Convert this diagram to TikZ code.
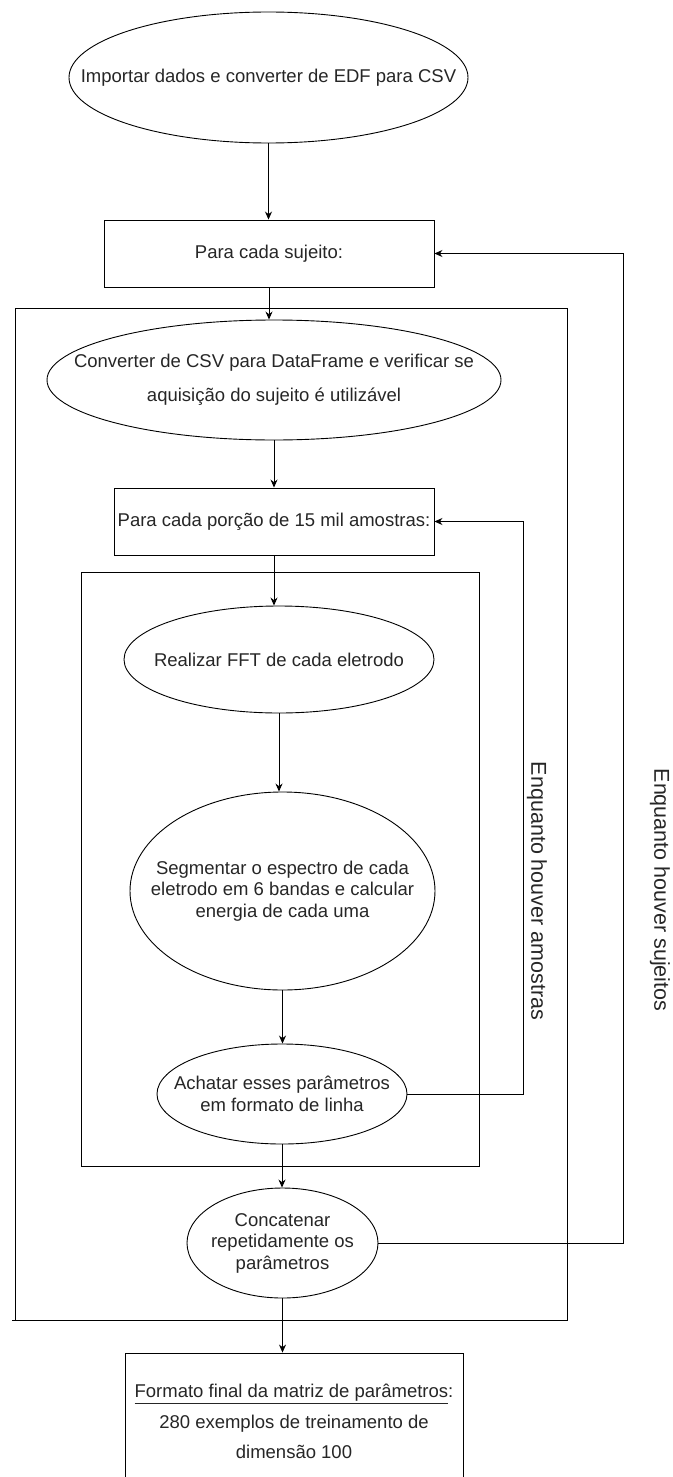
\documentclass[tikz,border=0pt]{standalone}
\usepackage{fontspec}
\setmainfont{Liberation Sans}
\usetikzlibrary{shapes.geometric,arrows.meta}

\begin{document}
\begin{tikzpicture}[x=1pt,y=-1pt,
  every node/.style={font=\fontsize{18.5}{21.5}\selectfont, text=black!85, align=center},
  proc/.style={draw, ellipse, line width=0.9pt, inner sep=0pt},
  loopbox/.style={draw, rectangle, line width=0.9pt, inner sep=0pt},
  arr/.style={line width=0.9pt, -{Stealth[length=8pt,width=7pt]}},
  lbl/.style={rotate=-90, font=\fontsize{21.5}{25}\selectfont}]
  \useasboundingbox (0,0) rectangle (672,1477);
  % frames of the two loops
  \draw[line width=0.9pt] (12,1320) -- (567,1320) -- (567,308) -- (15,308) -- (15,1320);
  \draw[line width=0.9pt] (81,572) rectangle (479,1166);
  % steps
  \node[proc, minimum width=399, minimum height=131,
        label=center:{Importar dados e converter de EDF para CSV}] (import) at (268.5,77.5) {};
  \node[loopbox, minimum width=330, minimum height=67] (sujeito) at (269,253.5) {Para cada sujeito:};
  \node[proc, minimum width=454, minimum height=120,
        label={[font=\fontsize{18.5}{34}\selectfont]center:{Converter de CSV para DataFrame e verificar se\\aquisição do sujeito é utilizável}}] (convert) at (274,380) {};
  \node[loopbox, minimum width=320, minimum height=67] (porcao) at (274,521.5) {Para cada porção de 15 mil amostras:};
  \node[proc, minimum width=310, minimum height=107,
        label=center:{Realizar FFT de cada eletrodo}] (fft) at (279,659.5) {};
  \node[proc, minimum width=305, minimum height=198,
        label=center:{Segmentar o espectro de cada\\eletrodo em 6 bandas e calcular\\energia de cada uma}] (segm) at (282.5,891) {};
  \node[proc, minimum width=250, minimum height=100,
        label=center:{Achatar esses parâmetros\\em formato de linha}] (achatar) at (282,1094) {};
  \node[proc, minimum width=191, minimum height=110,
        label=center:{Concatenar\\repetidamente os\\parâmetros}] (concat) at (282.5,1243) {};
  \node[loopbox, minimum width=338, minimum height=137,
        font=\fontsize{18.5}{30.5}\selectfont] (final) at (294,1421.5)
        {\underline{Formato final da matriz de parâmetros}:\\280 exemplos de treinamento de\\dimensão 100};
  % flow
  \draw[arr] (import.south) -- (import.south |- sujeito.north);
  \draw[arr] (sujeito.south) -- (sujeito.south |- convert.north);
  \draw[arr] (convert.south) -- (convert.south |- porcao.north);
  \draw[arr] (porcao.south) -- (porcao.south |- fft.north);
  \draw[arr] (fft.south) -- (fft.south |- segm.north);
  \draw[arr] (segm.south) -- (segm.south |- achatar.north);
  \draw[arr] (achatar.south) -- (achatar.south |- concat.north);
  \draw[arr] (concat.south) -- (concat.south |- final.north);
  % loops back
  \coordinate (loopA) at (523,0);
  \coordinate (loopB) at (623,0);
  \draw[arr] (achatar.east) -- (achatar.east -| loopA) -- (porcao.east -| loopA) -- (porcao.east);
  \draw[arr] (concat.east) -- (concat.east -| loopB) -- (sujeito.east -| loopB) -- (sujeito.east);
  \node[lbl] (lblA) at (537,891) {Enquanto houver amostras};
  \node[lbl] (lblB) at (660,890) {Enquanto houver sujeitos};
\end{tikzpicture}
\end{document}
